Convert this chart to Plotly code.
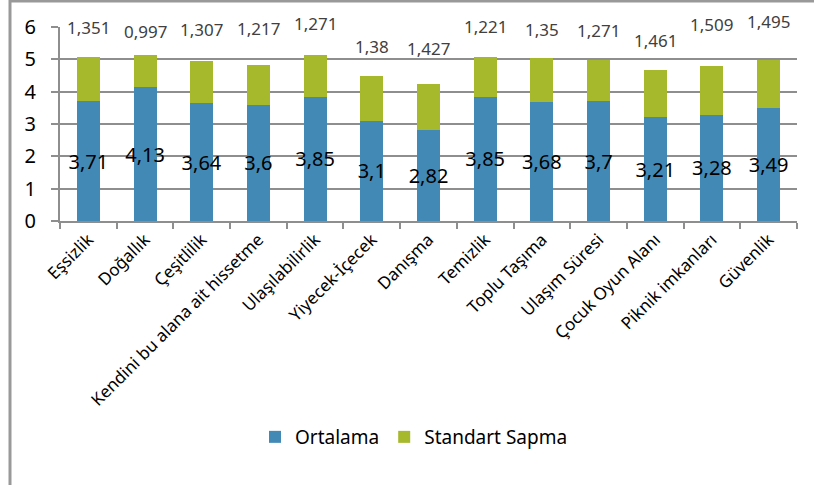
import plotly.graph_objects as go

categories = ["Eşsizlik", "Doğallık", "Çeşitlilik", "Kendini bu alana ait hissetme",
              "Ulaşılabilirlik", "Yiyecek-İçecek", "Danışma", "Temizlik", "Toplu Taşıma",
              "Ulaşım Süresi", "Çocuk Oyun Alanı", "Piknik imkanları", "Güvenlik"]
ortalama = [3.71, 4.13, 3.64, 3.6, 3.85, 3.1, 2.82, 3.85, 3.68, 3.7, 3.21, 3.28, 3.49]
std_sapma = [1.351, 0.997, 1.307, 1.217, 1.271, 1.38, 1.427, 1.221, 1.35, 1.271, 1.461, 1.509, 1.495]
# vertical positions (data units) of the standard-deviation value labels
std_label_y = [6.0, 5.86, 5.91, 5.94, 6.11, 5.39, 5.34, 6.03, 5.93, 5.88, 5.58, 6.09, 6.16]

Y_MAX = 6


def tr(v):
    return str(v).replace(".", ",")


FONT = "Noto Sans, Open Sans, sans-serif"
BLUE = "#4389B6"
GREEN = "#A6B82B"
GRID = "#8E8E8E"

fig = go.Figure()
fig.add_trace(go.Bar(
    x=categories, y=ortalama, name="Ortalama", marker=dict(color=BLUE, line=dict(width=0)),
    text=[tr(v) for v in ortalama], textposition="inside", insidetextanchor="middle",
    textangle=0, constraintext="none",
    textfont=dict(family=FONT, size=20, color="#000000"),
))
fig.add_trace(go.Bar(
    x=categories, y=std_sapma, name="Standart Sapma", marker=dict(color=GREEN, line=dict(width=0)),
    textposition="none",
))

# labels may sit above the top of the value axis, so place them in paper units of the same scale
annotations = [
    dict(x=c, y=yv / Y_MAX, xref="x", yref="paper", text=tr(s), showarrow=False,
         xanchor="center", yanchor="middle",
         font=dict(family=FONT, size=17, color="#404040"))
    for c, s, yv in zip(categories, std_sapma, std_label_y)
]

# plot area: x 60..797, y 27..221 pixels
L, R, T, B = 60, 797, 27, 221
W, H = 814, 485
pw, ph = R - L, B - T


def px(x):
    return (x - L) / pw


def py(y):
    return (B - y) / ph


fig.update_layout(
    width=W, height=H,
    margin=dict(l=L, r=W - R, t=T, b=H - B, pad=0, autoexpand=False),
    barmode="stack", bargap=0.594,
    paper_bgcolor="white", plot_bgcolor="white",
    font=dict(family=FONT, color="#000000"),
    showlegend=True,
    legend=dict(orientation="h", x=px(414), y=py(437), xanchor="center", yanchor="middle",
                font=dict(family=FONT, size=19, color="#000000"), traceorder="normal",
                itemsizing="constant"),
    xaxis=dict(type="category", tickangle=-45, showline=True, linecolor=GRID, linewidth=2,
               ticks="outside", ticklen=6, tickcolor=GRID, tickwidth=2, tickson="boundaries",
               showgrid=False, automargin=False,
               tickfont=dict(family=FONT, size=17, color="#000000")),
    yaxis=dict(range=[0, Y_MAX], dtick=1, showline=True, linecolor=GRID, linewidth=2,
               ticks="outside", ticklen=7, tickcolor=GRID, tickwidth=2,
               showgrid=True, gridcolor=GRID, gridwidth=2, zeroline=False,
               automargin=False, ticklabelstandoff=11,
               tickfont=dict(family=FONT, size=20, color="#000000")),
    annotations=annotations,
    shapes=[
        dict(type="line", xref="paper", yref="paper", x0=px(10), x1=px(10), y0=py(0), y1=py(485),
             line=dict(color="#999999", width=3)),
        dict(type="line", xref="paper", yref="paper", x0=px(10), x1=px(814), y0=py(1), y1=py(1),
             line=dict(color="#999999", width=3)),
    ],
)

fig.write_html("out.html", config={"displayModeBar": False},
               post_script="document.body.style.margin='0';")
